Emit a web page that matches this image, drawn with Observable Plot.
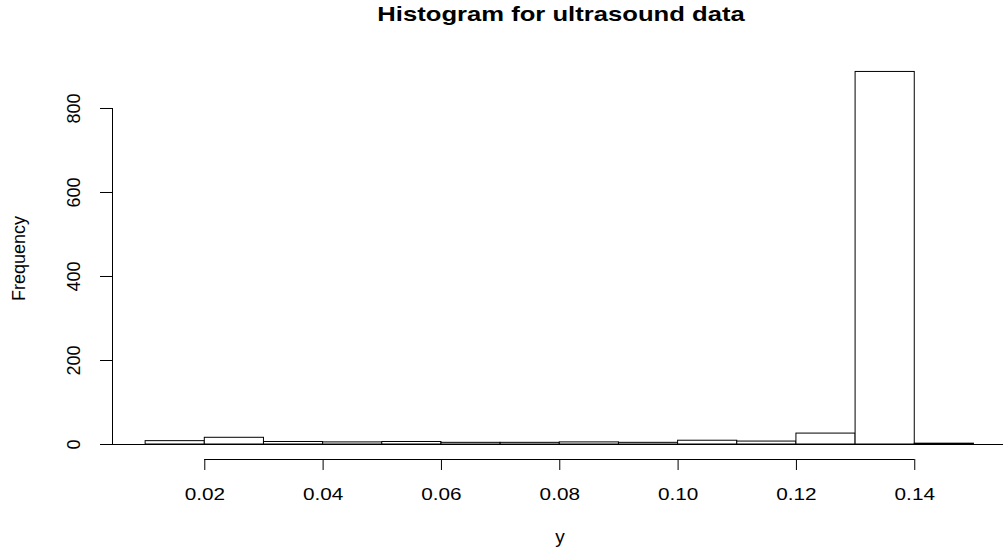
<!DOCTYPE html>
<html>
<head>
<meta charset="utf-8">
<script src="https://cdn.jsdelivr.net/npm/d3@7"></script>
<script src="https://cdn.jsdelivr.net/npm/@observablehq/plot@0.6"></script>
<style>
  html, body { margin: 0; padding: 0; background: white; overflow: hidden; }
</style>
</head>
<body>
<div id="chart"></div>
<script>
// Data
const binStarts = [0.01, 0.02, 0.03, 0.04, 0.05, 0.06, 0.07, 0.08, 0.09, 0.10, 0.11, 0.12, 0.13, 0.14];
const binWidth = 0.01;
const counts = [8, 16, 6, 5, 6, 4, 4, 5, 4, 9, 7, 26, 887, 2];
const xTicks = [0.02, 0.04, 0.06, 0.08, 0.10, 0.12, 0.14];
const yTicks = [0, 200, 400, 600, 800];
const titleText = "Histogram for ultrasound data";
const xLabel = "y";
const yLabel = "Frequency";

const bins = binStarts.map((s, i) => ({x0: s, x1: +(s + binWidth).toFixed(2), count: counts[i]}));
const fmtX = d3.format(".2f");

// R-style axis limits (4% padding)
const xMin = 0.0044, xMax = 0.155;
const yMin = -35.7, yMax = 921.4;

const font = "'Liberation Sans', Arial, Helvetica, sans-serif";

const chart = Plot.plot({
  width: 1003,
  height: 555,
  marginLeft: 112,
  marginRight: 0,
  marginTop: 57,
  marginBottom: 96,
  style: {fontFamily: font, background: "white", color: "black", overflow: "visible"},
  x: {domain: [xMin, xMax], axis: null},
  y: {domain: [yMin, yMax], axis: null},
  marks: [
    Plot.ruleY([0], {stroke: "black", strokeWidth: 1}),
    Plot.rectY(bins, {x1: "x0", x2: "x1", y: "count", fill: "white", stroke: "black", strokeWidth: 1, inset: 0}),
    // y axis line + ticks
    Plot.ruleX([xMin], {y1: yTicks[0], y2: yTicks[yTicks.length - 1], stroke: "black"}),
    Plot.axisY({ticks: yTicks, tickSize: 12, tickFormat: () => "", label: null, anchor: "left", stroke: "black"}),
    Plot.text(yTicks, {frameAnchor: "left", y: d => d, text: d => String(d), rotate: -90, dx: -38, lineAnchor: "middle", textAnchor: "middle", fontSize: 18}),
    // x axis line + ticks + labels
    Plot.ruleY([yMin], {x1: xTicks[0], x2: xTicks[xTicks.length - 1], stroke: "black"}),
    Plot.axisX({ticks: xTicks, tickSize: 11, tickPadding: 17, tickFormat: fmtX, label: null, anchor: "bottom", fontSize: 17, stroke: "black"}),
    // axis titles
    Plot.text([yLabel], {frameAnchor: "left", dx: -93, rotate: -90, lineAnchor: "middle", textAnchor: "middle", fontSize: 18}),
    Plot.text([xLabel], {frameAnchor: "bottom", dx: 2, dy: 83, lineAnchor: "bottom", fontSize: 19}),
    // main title
    Plot.text([titleText], {frameAnchor: "top", dx: 3, dy: -37, lineAnchor: "bottom", fontSize: 20.5, fontWeight: "bold"})
  ]
});

document.getElementById("chart").appendChild(chart);

// The reference text is drawn slightly wider than the natural font width
const xTickStrings = new Set(xTicks.map(fmtX));
chart.querySelectorAll("text").forEach(t => {
  const s = t.textContent.trim();
  let k = 0;
  if (s === titleText) k = 1.25;
  else if (xTickStrings.has(s)) k = 1.22;
  if (k) {
    const L = t.getComputedTextLength();
    if (L > 0) {
      t.setAttribute("textLength", (L * k).toFixed(2));
      t.setAttribute("lengthAdjust", "spacingAndGlyphs");
    }
  }
});
</script>
</body>
</html>
